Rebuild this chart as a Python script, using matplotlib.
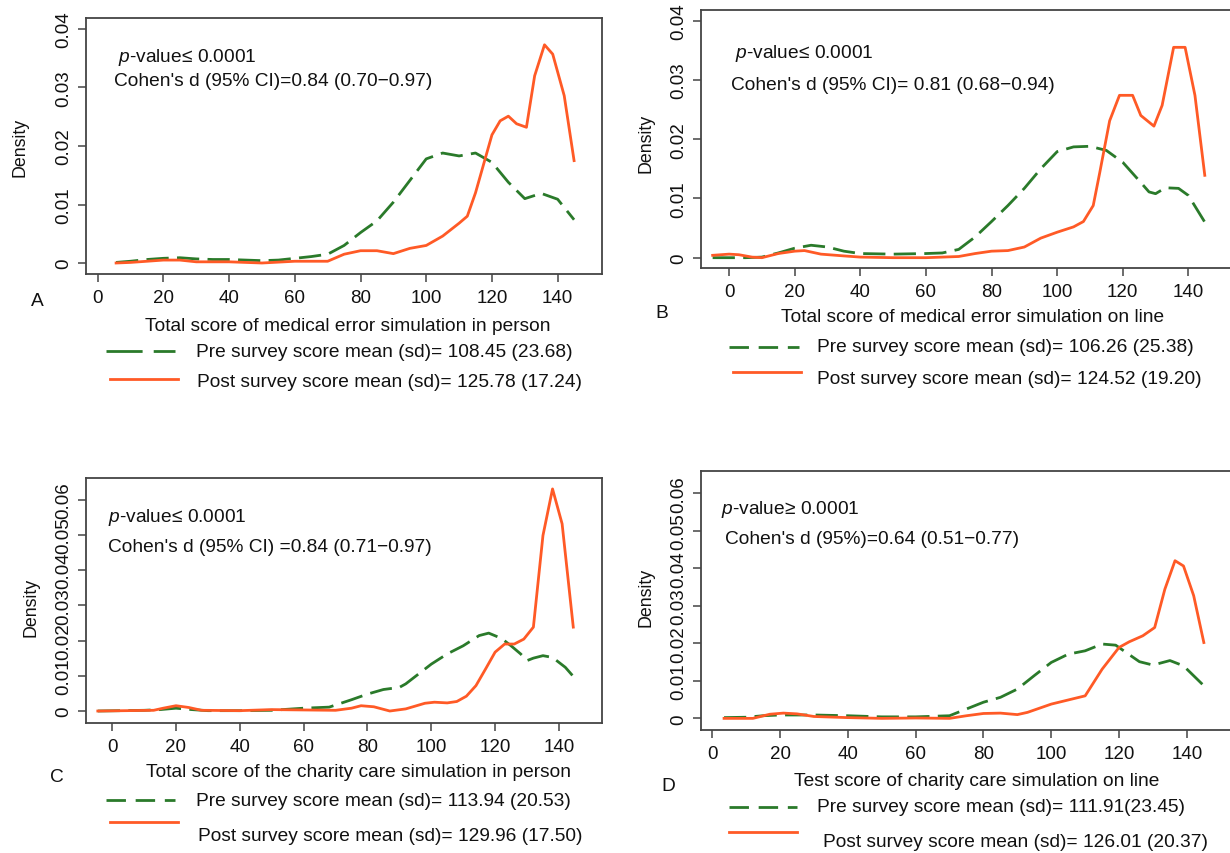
import matplotlib
matplotlib.use('Agg')
import matplotlib.pyplot as plt
from matplotlib.lines import Line2D

W, H = 1230, 854
GREEN = '#2a7a2a'
ORANGE = '#ff5a26'
FONT = 'Liberation Sans'

plt.rcParams['font.family'] = [FONT, 'DejaVu Sans']
plt.rcParams['mathtext.fontset'] = 'custom'
plt.rcParams['mathtext.it'] = FONT + ':italic'
plt.rcParams['mathtext.rm'] = FONT

# ---- panel A: medical error simulation in person
a_pre_x = [5.6, 10, 15, 20, 25, 30, 35, 40, 45, 50, 55, 60, 65, 70, 75, 80, 85, 90,
           95, 100, 105, 110, 115, 120, 125, 130, 135, 140, 145]
a_pre_y = [0.0001, 0.0003, 0.0006, 0.0008, 0.0009, 0.0007, 0.0006, 0.0006, 0.0005,
           0.0004, 0.0005, 0.0008, 0.0011, 0.0015, 0.0030, 0.0052, 0.0072, 0.0104,
           0.0141, 0.0178, 0.0188, 0.0183, 0.0188, 0.0172, 0.0138, 0.0110, 0.0119,
           0.0109, 0.0074]
a_post_x = [5.6, 10, 15, 20, 25, 30, 40, 50, 60, 70, 75, 80, 85, 90, 95, 100, 105,
            110, 112.5, 115, 120, 122.5, 125, 127.5, 130.5, 133, 136, 138.5, 142, 145]
a_post_y = [0.0, 0.0001, 0.0003, 0.0005, 0.0005, 0.0002, 0.0002, 0.0, 0.0003, 0.0003,
            0.0015, 0.0021, 0.0021, 0.0016, 0.0025, 0.0030, 0.0046, 0.0068, 0.0080,
            0.0120, 0.0219, 0.0243, 0.0251, 0.0238, 0.0232, 0.0320, 0.0373, 0.0357,
            0.0286, 0.0175]

# ---- panel B: medical error simulation on line
b_pre_x = [-5, 0, 5, 10, 15, 20, 25, 30, 35, 40, 50, 60, 65, 70, 75, 80, 85, 90, 95,
           100, 105, 110, 115, 120, 125, 128, 130, 133, 137, 140, 145]
b_pre_y = [0.0, 0.0, 0.0, 0.0001, 0.0008, 0.0016, 0.0021, 0.0018, 0.0011, 0.0007,
           0.0006, 0.0007, 0.0008, 0.0014, 0.0035, 0.0061, 0.0088, 0.0117, 0.0150,
           0.0179, 0.0187, 0.0188, 0.0181, 0.0161, 0.0130, 0.0111, 0.0108, 0.0118,
           0.0117, 0.0105, 0.0060]
b_post_x = [-5, 0, 3, 7, 10, 15, 20, 23, 28, 35, 40, 50, 60, 70, 75, 80, 85, 90, 95,
            100, 105, 108, 111, 113, 116, 119, 123, 125.5, 129.5, 132, 135.5, 139,
            142, 145]
b_post_y = [0.0004, 0.0006, 0.0005, 0.0001, 0.0, 0.0007, 0.0011, 0.0012, 0.0006,
            0.0003, 0.0001, 0.0, 0.0, 0.0002, 0.0007, 0.0011, 0.0012, 0.0018, 0.0033,
            0.0043, 0.0052, 0.0061, 0.0088, 0.0144, 0.0231, 0.0274, 0.0274, 0.0240,
            0.0222, 0.0257, 0.0355, 0.0355, 0.0274, 0.0139]

# ---- panel C: charity care simulation in person
c_pre_x = [-4.5, 10, 15, 20, 25, 30, 40, 50, 60, 68, 75, 80, 85, 90, 92, 100, 105,
           110, 115, 118, 122, 125, 128, 130, 132, 135, 138, 142, 145]
c_pre_y = [0.0, 0.0002, 0.0004, 0.0008, 0.0004, 0.0001, 0.0001, 0.0002, 0.0008,
           0.0011, 0.0032, 0.0048, 0.0061, 0.0067, 0.0077, 0.0133, 0.0162, 0.0185,
           0.0214, 0.0221, 0.0206, 0.0185, 0.0162, 0.0143, 0.0150, 0.0157, 0.0152,
           0.0124, 0.0093]
c_post_x = [-4.5, 13, 16, 20, 24, 28, 40, 50, 60, 70, 75, 78, 82, 87, 92, 98, 101,
            105, 108, 111, 114, 117, 120, 123, 126, 129, 132, 135, 138, 141, 144.5]
c_post_y = [0.0, 0.0002, 0.0008, 0.0015, 0.0010, 0.0002, 0.0001, 0.0004, 0.0003,
            0.0002, 0.0008, 0.0015, 0.0012, 0.0, 0.0006, 0.0022, 0.0025, 0.0023,
            0.0027, 0.0042, 0.0072, 0.0119, 0.0167, 0.0190, 0.0190, 0.0204, 0.0238,
            0.0498, 0.0630, 0.0531, 0.0238]

# ---- panel D: charity care simulation on line
d_pre_x = [3.5, 10, 15, 20, 25, 30, 40, 50, 60, 70, 75, 80, 85, 90, 95, 100, 105,
           110, 115, 119, 122, 126, 130, 135, 139, 145]
d_pre_y = [0.0002, 0.0003, 0.0007, 0.0009, 0.0009, 0.0009, 0.0007, 0.0004, 0.0004,
           0.0007, 0.0025, 0.0043, 0.0056, 0.0078, 0.0114, 0.0149, 0.0171, 0.0180,
           0.0198, 0.0195, 0.0176, 0.0151, 0.0142, 0.0154, 0.0140, 0.0087]
d_post_x = [3.5, 12, 17, 21, 25, 30, 40, 50, 60, 70, 75, 80, 85, 90, 93, 100, 105,
            110, 115, 120, 123, 127, 130.5, 133.5, 136.5, 139, 142, 145]
d_post_y = [0.0, 0.0, 0.0011, 0.0014, 0.0012, 0.0005, 0.0002, 0.0, 0.0001, 0.0, 0.0007,
            0.0013, 0.0014, 0.0010, 0.0016, 0.0038, 0.0049, 0.0060, 0.0131, 0.0189,
            0.0204, 0.0220, 0.0242, 0.0344, 0.0420, 0.0406, 0.0327, 0.0202]

x_ticks = [0, 20, 40, 60, 80, 100, 120, 140]
y_ticks_top = [0, 0.01, 0.02, 0.03, 0.04]
y_labels_top = ['0', '0.01', '0.02', '0.03', '0.04']
y_ticks_bottom = [0, 0.01, 0.02, 0.03, 0.04, 0.05, 0.06]
y_labels_bottom = ['0', '0.01', '0.02', '0.03', '0.04', '0.05', '0.06']

fig = plt.figure(figsize=(W / 100, H / 100), dpi=100)


def fx(px):
    return px / W


def fy(py):
    return 1 - py / H


def ftext(px, py, s, **kw):
    kw.setdefault('fontsize', 13.8)
    kw.setdefault('ha', 'left')
    kw.setdefault('va', 'center')
    fig.text(fx(px), fy(py), s, color='#111111', **kw)


def legend_line(x0, x1, y, **kw):
    fig.add_artist(Line2D([fx(x0), fx(x1)], [fy(y), fy(y)], transform=fig.transFigure,
                          lw=2.0, **kw))


def panel(box, xlim, ylim, yticks, ylabels, pre, post):
    l, t, r, b = box
    ax = fig.add_axes([fx(l), fy(b), (r - l) / W, (b - t) / H])
    ax.plot(pre[0], pre[1], color=GREEN, lw=2.0, dashes=(8, 3))
    ax.plot(post[0], post[1], color=ORANGE, lw=2.0)
    ax.set_xlim(*xlim)
    ax.set_ylim(*ylim)
    ax.set_xticks(x_ticks)
    ax.set_yticks(yticks)
    ax.set_yticklabels(ylabels, rotation=90, va='center')
    ax.tick_params(length=6, width=1.1, color='#444444', labelsize=13.5,
                   labelcolor='#111111')
    ax.tick_params(axis='x', pad=5)
    ax.tick_params(axis='y', pad=4)
    for sp in ax.spines.values():
        sp.set_color('#444444')
        sp.set_linewidth(1.3)
    return ax


# A
panel((86, 19, 602, 275), (-3.56, 153.5), (-0.00188, 0.04188),
      y_ticks_top, y_labels_top, (a_pre_x, a_pre_y), (a_post_x, a_post_y))
ftext(118, 57, '$p$-value≤ 0.0001')
ftext(114, 81, "Cohen's d (95% CI)=0.84 (0.70\u22120.97)")
ftext(20, 147, 'Density', rotation=90, ha='center', fontsize=12.8)
ftext(37, 302, 'A', ha='center')
ftext(348, 327, 'Total score of medical error simulation in person', ha='center')
legend_line(106, 175, 352, color=GREEN, dashes=(13, 4))
ftext(196, 353, 'Pre survey score mean (sd)= 108.45 (23.68)')
legend_line(110, 178, 380, color=ORANGE)
ftext(197, 383, 'Post survey score mean (sd)= 125.78 (17.24)')

# B
panel((701, 11, 1233, 269), (-8.55, 153.6), (-0.00174, 0.0418),
      y_ticks_top, y_labels_top, (b_pre_x, b_pre_y), (b_post_x, b_post_y))
ftext(735, 53, '$p$-value≤ 0.0001')
ftext(731, 85, "Cohen's d (95% CI)= 0.81 (0.68\u22120.94)")
ftext(646, 143, 'Density', rotation=90, ha='center', fontsize=12.8)
ftext(662, 313, 'B', ha='center')
ftext(973, 318, 'Total score of medical error simulation on line', ha='center')
legend_line(729, 799, 348, color=GREEN, dashes=(7, 3.5))
ftext(817, 348, 'Pre survey score mean (sd)= 106.26 (25.38)')
legend_line(733, 801, 373, color=ORANGE)
ftext(817, 380, 'Post survey score mean (sd)= 124.52 (19.20)')

# C
panel((86, 479, 602, 724), (-8.2, 153.5), (-0.0034, 0.0661),
      y_ticks_bottom, y_labels_bottom, (c_pre_x, c_pre_y), (c_post_x, c_post_y))
ftext(108, 518, '$p$-value≤ 0.0001')
ftext(108, 548, "Cohen's d (95% CI) =0.84 (0.71\u22120.97)")
ftext(31, 607, 'Density', rotation=90, ha='center', fontsize=12.8)
ftext(57, 778, 'C', ha='center')
ftext(358, 773, 'Total score of the charity care simulation in person', ha='center')
legend_line(106, 175, 801, color=GREEN, dashes=(7, 3.5))
ftext(196, 802, 'Pre survey score mean (sd)= 113.94 (20.53)')
legend_line(110, 178, 823, color=ORANGE)
ftext(198, 837, 'Post survey score mean (sd)= 129.96 (17.50)')

# D
panel((701, 472, 1233, 731), (-3.3, 153.6), (-0.0031, 0.0659),
      y_ticks_bottom, y_labels_bottom, (d_pre_x, d_pre_y), (d_post_x, d_post_y))
ftext(721, 510, '$p$-value≥ 0.0001')
ftext(725, 540, "Cohen's d (95%)=0.64 (0.51\u22120.77)")
ftext(646, 597, 'Density', rotation=90, ha='center', fontsize=12.8)
ftext(668, 787, 'D', ha='center')
ftext(977, 782, 'Test score of charity care simulation on line', ha='center')
legend_line(729, 797, 808, color=GREEN, dashes=(7, 3.5))
ftext(817, 808, 'Pre survey score mean (sd)= 111.91(23.45)')
legend_line(729, 797, 833, color=ORANGE)
ftext(823, 843, 'Post survey score mean (sd)= 126.01 (20.37)')

fig.savefig('out.png', dpi=100)
